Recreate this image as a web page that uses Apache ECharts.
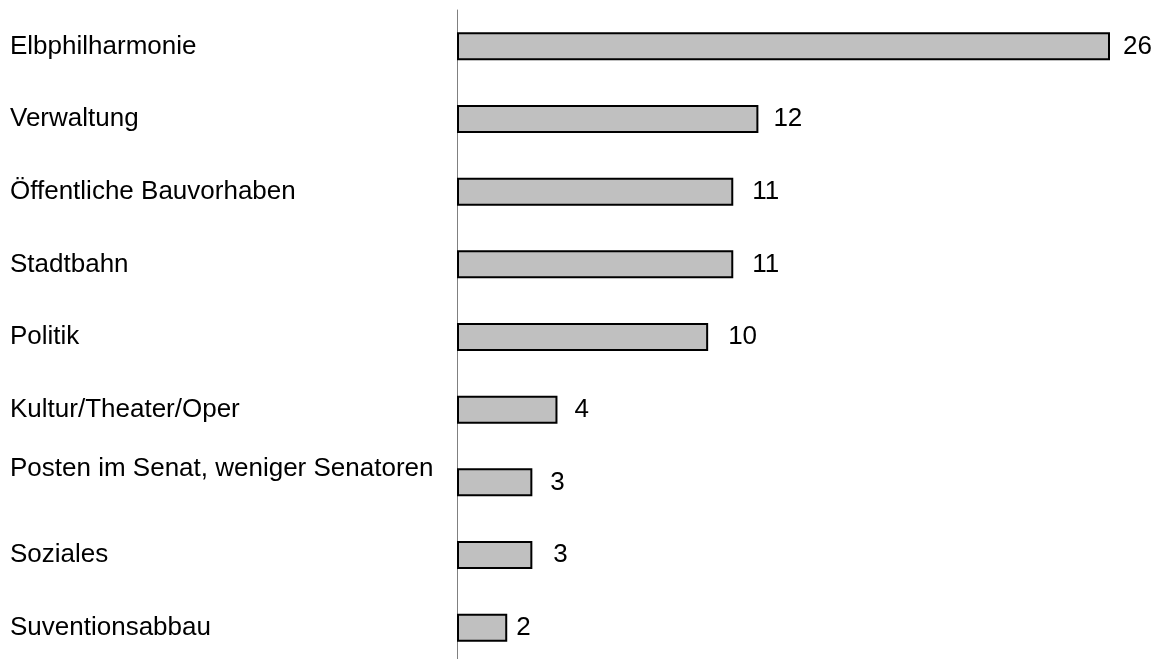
<!DOCTYPE html>
<html>
<head>
<meta charset="utf-8">
<script src="https://cdn.jsdelivr.net/npm/echarts@6/dist/echarts.min.js"></script>
<style>
  html, body { margin: 0; padding: 0; background: #fff; }
  #chart { width: 1159px; height: 659px; }
</style>
</head>
<body>
<div id="chart"></div>
<script>
var categories = ['Elbphilharmonie', 'Verwaltung', 'Öffentliche Bauvorhaben', 'Stadtbahn', 'Politik',
  'Kultur/Theater/Oper', 'Posten im Senat, weniger Senatoren', 'Soziales', 'Suventionsabbau'];
var values = [26, 12, 11, 11, 10, 4, 3, 3, 2];

// gap between bar end and value label, as in the original
var labelGap = [13, 15, 19, 19, 20, 17, 18, 21, 9];

var chart = echarts.init(document.getElementById('chart'));
window.onresize = chart.resize;

chart.setOption({
  backgroundColor: '#ffffff',
  textStyle: { fontFamily: 'Liberation Sans, Arial, sans-serif' },
  grid: { left: 457, right: 49, top: 10, height: 654, outerBoundsMode: 'none', containLabel: false },
  xAxis: {
    type: 'value',
    min: 0,
    max: 26,
    show: false
  },
  yAxis: {
    type: 'category',
    inverse: true,
    data: categories,
    axisLine: { show: true, lineStyle: { color: '#808080', width: 1 } },
    axisTick: { show: false },
    axisLabel: {
      align: 'left',
      margin: 447,
      color: '#000',
      fontSize: 26,
      fontFamily: 'Liberation Sans, Arial, sans-serif',
      // the long label sits higher than its bar in the original
      formatter: function (v) {
        return v.indexOf('Posten') === 0 ? '{up|' + v + '}' : v;
      },
      rich: {
        up: { fontSize: 26, color: '#000', padding: [0, 0, 28, 0] }
      }
    },
    splitLine: { show: false }
  },
  series: [{
    type: 'bar',
    data: values.map(function (v, i) {
      return { value: v, label: { distance: labelGap[i] } };
    }),
    barWidth: 28,
    itemStyle: { color: '#c0c0c0', borderColor: '#000', borderWidth: 2 },
    label: {
      show: true,
      position: 'right',
      distance: 14,
      color: '#000',
      fontSize: 26,
      fontFamily: 'Liberation Sans, Arial, sans-serif'
    },
    animation: false
  }]
});
</script>
</body>
</html>
